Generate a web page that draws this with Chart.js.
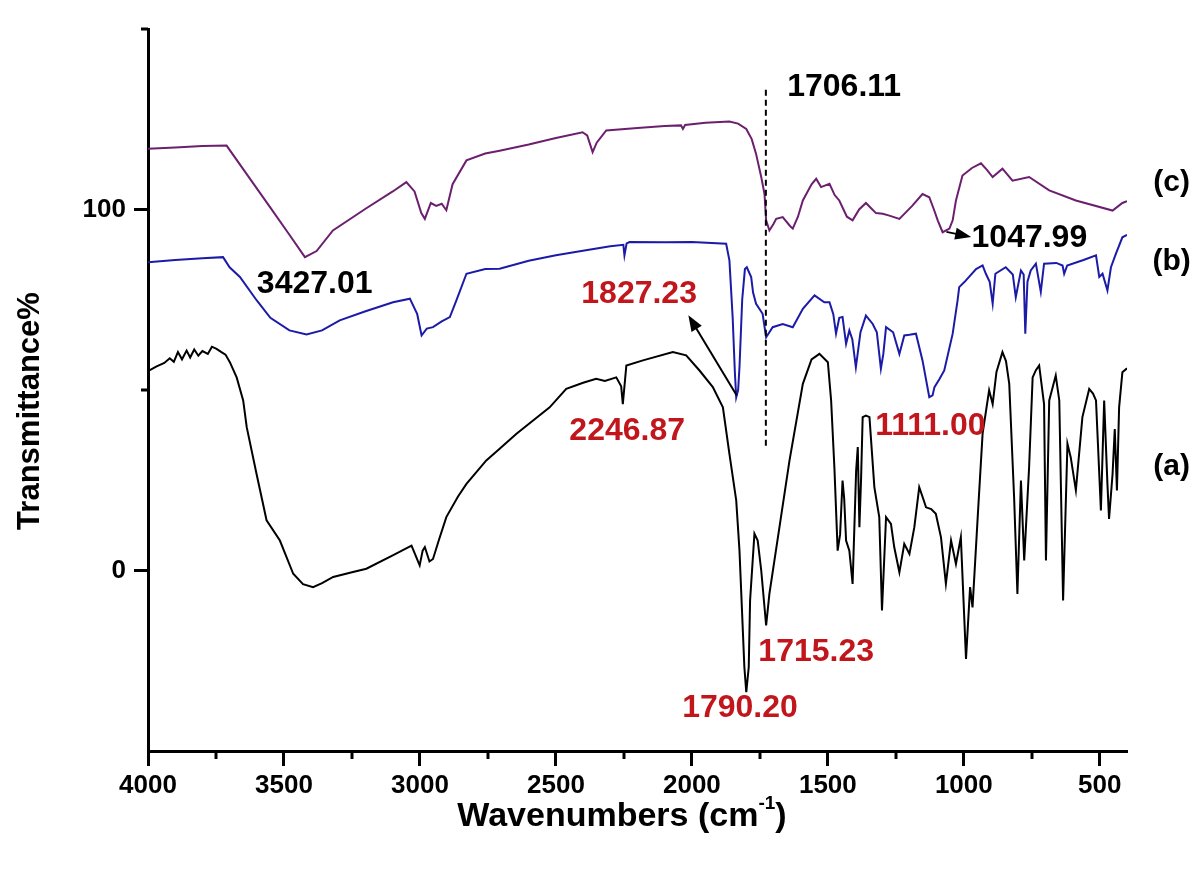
<!DOCTYPE html>
<html>
<head>
<meta charset="utf-8">
<title>FTIR spectra</title>
<script src="https://cdn.jsdelivr.net/npm/chart.js@4.4.1/dist/chart.umd.min.js"></script>
<style>
  html, body { margin: 0; padding: 0; background: #fff; }
  #wrap { width: 1200px; height: 872px; }
</style>
</head>
<body>
<div id="wrap"><canvas id="ftir"></canvas></div>
<script>
/* FTIR spectra (a), (b), (c) — wavenumber (cm-1) vs transmittance % */

// [wavenumber, transmittance]
const specA = [
  [4000, 55.2], [3970, 56.5], [3940, 57.5], [3920, 58.8], [3905, 57.8], [3890, 60.5],
  [3875, 58.5], [3858, 60.9], [3845, 59.0], [3830, 61.2], [3815, 59.5], [3800, 60.8],
  [3780, 60.0], [3765, 62.0], [3748, 61.4], [3730, 60.5], [3715, 59.8], [3699, 57.7],
  [3674, 53.5], [3650, 47.1], [3637, 39.7], [3601, 26.8], [3564, 13.9], [3515, 8.3],
  [3466, -0.9], [3430, -3.8], [3393, -4.6], [3360, -3.5], [3319, -1.8], [3250, -0.5],
  [3197, 0.5], [3100, 4.2], [3031, 6.9], [3001, 1.4], [2990, 5.5], [2982, 6.5],
  [2965, 2.5], [2952, 3.2], [2930, 8.5], [2903, 14.8], [2860, 20.5], [2829, 24.0],
  [2756, 30.5], [2707, 33.7], [2645, 37.9], [2523, 45.2], [2462, 50.3], [2400, 52.0],
  [2352, 53.1], [2320, 52.5], [2278, 53.5], [2260, 51.0], [2254, 46.1], [2248, 51.0],
  [2241, 56.8], [2180, 58.2], [2070, 60.5], [2021, 59.6], [1972, 55.4], [1923, 50.8],
  [1886, 45.2], [1862, 32.3], [1837, 19.4], [1825, 5.5], [1807, -26.8], [1800, -33.7],
  [1791, -26.8], [1786, -8.3], [1770, 10.2], [1758, 8.3], [1745, 0.0], [1727, -15.2],
  [1715, -6.5], [1678, 12.0], [1641, 30.5], [1592, 51.7], [1560, 58.5], [1531, 60.0],
  [1500, 57.7], [1488, 47.1], [1476, 28.6], [1464, 5.5], [1455, 10.0], [1446, 24.9],
  [1440, 20.0], [1433, 8.3], [1421, 5.5], [1409, -3.7], [1396, 27.7], [1390, 34.2],
  [1384, 12.0], [1378, 25.0], [1372, 42.5], [1360, 42.9], [1347, 42.5], [1329, 23.1],
  [1311, 14.8], [1301, -11.1], [1286, 14.8], [1268, 12.9], [1256, 6.5], [1237, -0.5],
  [1219, 7.4], [1200, 4.6], [1182, 12.0], [1164, 23.1], [1150, 20.0], [1139, 17.5],
  [1120, 17.0], [1103, 15.7], [1084, 9.2], [1066, -3.7], [1047, 8.3], [1029, 1.8],
  [1011, 9.2], [992, -24.5], [977, -4.6], [968, -10.2], [949, 14.8], [931, 37.9],
  [907, 49.9], [894, 46.1], [880, 55.0], [858, 60.5], [845, 58.0], [833, 51.7],
  [815, 20.0], [803, -6.5], [790, 24.9], [778, 2.8], [760, 28.6], [747, 53.5],
  [735, 55.5], [723, 56.8], [705, 46.1], [698, 2.8], [686, 47.1], [662, 54.0],
  [649, 47.1], [635, -8.3], [619, 35.1], [607, 31.4], [588, 22.2], [564, 42.5],
  [539, 50.3], [525, 49.0], [514, 47.1], [496, 16.6], [484, 47.1], [472, 24.0],
  [466, 14.3], [453, 26.8], [445, 39.2], [437, 22.2], [429, 45.2], [417, 54.9], [400, 56.0]
];

const specB = [
  [4000, 85.4], [3900, 86.0], [3800, 86.5], [3724, 86.8], [3700, 84.0], [3662, 81.3],
  [3600, 74.8], [3550, 70.0], [3480, 66.5], [3417, 65.4], [3360, 66.5], [3295, 69.3],
  [3200, 71.8], [3099, 74.3], [3037, 75.3], [3010, 71.0], [2994, 65.1], [2975, 67.0],
  [2952, 67.4], [2920, 69.0], [2890, 70.2], [2866, 74.8], [2829, 82.2], [2760, 83.5],
  [2707, 83.6], [2600, 85.8], [2500, 87.3], [2401, 88.6], [2300, 89.8], [2252, 90.2],
  [2248, 87.3], [2240, 90.6], [2229, 91.0], [2100, 90.9], [2000, 91.0], [1874, 90.5],
  [1862, 85.9], [1850, 70.0], [1842, 55.0], [1837, 48.0], [1830, 50.0], [1825, 56.3],
  [1815, 75.0], [1805, 83.5], [1798, 84.0], [1782, 81.3], [1775, 77.0], [1764, 73.9],
  [1752, 72.5], [1740, 71.1], [1727, 64.6], [1715, 66.0], [1703, 67.4], [1666, 68.3],
  [1629, 67.4], [1592, 72.5], [1549, 76.2], [1513, 74.3], [1494, 74.3], [1480, 71.0],
  [1470, 65.6], [1458, 70.0], [1446, 70.2], [1433, 62.8], [1421, 66.5], [1410, 64.0],
  [1397, 56.3], [1380, 66.0], [1360, 70.6], [1335, 68.3], [1320, 66.0], [1305, 55.9],
  [1296, 60.0], [1286, 67.4], [1260, 66.0], [1237, 60.0], [1219, 65.1], [1200, 65.3],
  [1176, 65.6], [1152, 58.2], [1127, 48.0], [1115, 48.5], [1108, 50.8], [1090, 53.0],
  [1072, 55.4], [1041, 65.6], [1023, 74.8], [1017, 78.5], [998, 79.9], [955, 83.5],
  [931, 84.5], [919, 82.2], [905, 80.0], [894, 73.9], [884, 82.2], [846, 84.0],
  [820, 82.0], [809, 75.7], [790, 83.1], [780, 82.0], [774, 65.6], [766, 80.0],
  [754, 83.1], [735, 85.0], [717, 77.2], [705, 85.0], [660, 85.2], [637, 84.5],
  [631, 82.2], [620, 84.5], [560, 86.0], [514, 87.3], [502, 81.3], [490, 82.2],
  [472, 77.6], [459, 84.0], [441, 87.7], [417, 92.3], [400, 93.0]
];

const specC = [
  [4000, 116.8], [3900, 117.2], [3800, 117.6], [3711, 117.7], [3650, 111.2], [3550, 100.5],
  [3480, 93.0], [3423, 86.8], [3380, 88.5], [3320, 94.2], [3200, 100.2], [3100, 105.0],
  [3050, 107.6], [3020, 105.0], [2995, 99.0], [2982, 97.4], [2960, 101.8], [2940, 101.0],
  [2920, 101.6], [2903, 99.8], [2880, 107.0], [2829, 113.6], [2760, 115.5], [2707, 116.3],
  [2600, 118.0], [2500, 119.8], [2402, 121.4], [2385, 120.5], [2365, 115.9], [2350, 118.5],
  [2315, 121.9], [2200, 122.6], [2100, 123.1], [2040, 123.3], [2033, 122.3], [2025, 123.4],
  [1950, 124.0], [1862, 124.4], [1830, 123.8], [1800, 122.3], [1780, 119.5], [1764, 115.4],
  [1745, 109.0], [1733, 104.3], [1727, 97.0], [1715, 94.2], [1700, 96.0], [1690, 97.4],
  [1666, 97.9], [1640, 95.5], [1629, 94.7], [1610, 98.0], [1592, 102.5], [1560, 107.0],
  [1543, 108.5], [1525, 106.2], [1494, 107.1], [1475, 104.0], [1458, 102.5], [1430, 98.0],
  [1409, 97.0], [1385, 100.0], [1360, 101.8], [1340, 100.3], [1323, 99.0], [1298, 98.8],
  [1274, 98.3], [1237, 97.4], [1190, 101.0], [1152, 104.3], [1127, 103.4], [1110, 100.0],
  [1096, 97.0], [1078, 93.7], [1053, 94.7], [1041, 97.0], [1029, 102.5], [1005, 109.4],
  [970, 111.5], [937, 112.8], [915, 111.0], [894, 109.0], [858, 111.3], [821, 108.0],
  [760, 109.0], [686, 105.3], [588, 102.5], [453, 99.7], [417, 101.8], [400, 102.3]
];

const seriesNames  = ['(a)', '(b)', '(c)'];
const seriesColors = ['#000000', '#1b1ba8', '#6b1f6e'];

const xTickLabels = [4000, 3500, 3000, 2500, 2000, 1500, 1000, 500];
const xMinorTicks = [3750, 3250, 2750, 2250, 1750, 1250, 750];
const yTickLabels = [0, 100];
const yMinorTicks = [50, 150];

// peak labels: [text, wavenumber, transmittance, colour]
const RED = '#c0161c';
const peakLabels = [
  ['3427.01', 3387, 79.3, '#000'],
  ['1706.11', 1440, 134.0, '#000'],
  ['1047.99', 759, 92.1, '#000'],
  ['1827.23', 2194, 76.5, RED],
  ['2246.87', 2238, 38.5, RED],
  ['1790.20', 1823, -38.0, RED],
  ['1715.23', 1543, -22.7, RED],
  ['1111.00', 1123, 39.9, RED]
];
// series tags right of the plot
const seriesTags = [['(c)', 236, 107.3], ['(b)', 236, 85.5], ['(a)', 236, 28.8]];
// arrows: [fromW, fromT, toW, toT]
const arrows = [[1835, 48.5, 2013, 70.7], [1064, 93.8, 973, 92.4]];
const markerLine = [1728, 133.2, 33.7];

const FONT = '"Liberation Sans", Arial, sans-serif';

const decor = {
  id: 'decor',
  afterDraw(chart) {
    const { ctx, chartArea } = chart;
    const x = chart.scales.x, y = chart.scales.y;
    ctx.save();

    // minor ticks
    ctx.strokeStyle = '#000';
    ctx.lineWidth = 3;
    xMinorTicks.forEach(v => {
      const px = Math.round(x.getPixelForValue(v));
      ctx.beginPath();
      ctx.moveTo(px, chartArea.bottom);
      ctx.lineTo(px, chartArea.bottom + 8);
      ctx.stroke();
    });
    yMinorTicks.forEach(v => {
      const py = Math.round(y.getPixelForValue(v));
      ctx.beginPath();
      ctx.moveTo(chartArea.left - 7, py);
      ctx.lineTo(chartArea.left, py);
      ctx.stroke();
    });

    // dashed marker line
    const mx = x.getPixelForValue(markerLine[0]);
    ctx.lineWidth = 2;
    ctx.setLineDash([6, 4]);
    ctx.beginPath();
    ctx.moveTo(mx, y.getPixelForValue(markerLine[1]));
    ctx.lineTo(mx, y.getPixelForValue(markerLine[2]));
    ctx.stroke();
    ctx.setLineDash([]);

    // arrows
    arrows.forEach(([w0, t0, w1, t1]) => {
      const x0 = x.getPixelForValue(w0), y0 = y.getPixelForValue(t0);
      const x1 = x.getPixelForValue(w1), y1 = y.getPixelForValue(t1);
      const ang = Math.atan2(y1 - y0, x1 - x0);
      const head = 16, half = 6;
      ctx.lineWidth = 2;
      ctx.beginPath();
      ctx.moveTo(x0, y0);
      ctx.lineTo(x1 - Math.cos(ang) * head * 0.8, y1 - Math.sin(ang) * head * 0.8);
      ctx.stroke();
      ctx.fillStyle = '#000';
      ctx.beginPath();
      ctx.moveTo(x1, y1);
      ctx.lineTo(x1 - Math.cos(ang) * head - Math.sin(ang) * half, y1 - Math.sin(ang) * head + Math.cos(ang) * half);
      ctx.lineTo(x1 - Math.cos(ang) * head + Math.sin(ang) * half, y1 - Math.sin(ang) * head - Math.cos(ang) * half);
      ctx.closePath();
      ctx.fill();
    });

    // peak labels and series tags
    ctx.textAlign = 'center';
    ctx.textBaseline = 'middle';
    ctx.font = 'bold 32px ' + FONT;
    peakLabels.forEach(([txt, w, t, col]) => {
      ctx.fillStyle = col;
      ctx.fillText(txt, x.getPixelForValue(w), y.getPixelForValue(t));
    });
    ctx.fillStyle = '#000';
    ctx.font = 'bold 30px ' + FONT;
    seriesTags.forEach(([txt, w, t]) => {
      ctx.fillText(txt, x.getPixelForValue(w), y.getPixelForValue(t));
    });

    // axis titles
    ctx.save();
    ctx.translate(30, 411);
    ctx.rotate(-Math.PI / 2);
    ctx.font = 'bold 31px ' + FONT;
    ctx.fillText('Transmittance%', 0, 0);
    ctx.restore();

    const main = 'Wavenumbers (cm', sup = '-1', tail = ')';
    ctx.font = 'bold 34px ' + FONT;
    const wMain = ctx.measureText(main).width, wTail = ctx.measureText(tail).width;
    ctx.font = 'bold 19px ' + FONT;
    const wSup = ctx.measureText(sup).width;
    let tx = 622 - (wMain + wSup + wTail) / 2;
    const ty = 817;
    ctx.textAlign = 'left';
    ctx.font = 'bold 34px ' + FONT;
    ctx.fillText(main, tx, ty);
    tx += wMain;
    ctx.font = 'bold 19px ' + FONT;
    ctx.fillText(sup, tx, ty - 13);
    tx += wSup;
    ctx.font = 'bold 34px ' + FONT;
    ctx.fillText(tail, tx, ty);

    ctx.restore();
  }
};

const toPoints = spec => spec.map(([w, t]) => ({ x: w, y: t }));
const specs = [specA, specB, specC];

new Chart(document.getElementById('ftir'), {
  type: 'line',
  data: {
    datasets: specs.map((s, i) => ({
      label: seriesNames[i],
      data: toPoints(s),
      borderColor: seriesColors[i],
      borderWidth: 2,
      pointRadius: 0,
      tension: 0,
      fill: false
    }))
  },
  options: {
    responsive: true,
    maintainAspectRatio: false,
    animation: false,
    layout: { padding: { top: 29, right: 73, left: 0, bottom: 0 } },
    plugins: { legend: { display: false }, tooltip: { enabled: false } },
    scales: {
      x: {
        type: 'linear',
        reverse: true,
        min: 400,
        max: 4000,
        afterBuildTicks: s => { s.ticks = xTickLabels.map(v => ({ value: v })); },
        afterFit: s => { s.height = 121; },
        border: { display: true, color: '#000', width: 3 },
        grid: { drawOnChartArea: false, tickLength: 15, tickWidth: 3, tickColor: '#000' },
        ticks: {
          autoSkip: false,
          maxRotation: 0,
          padding: 4,
          color: '#000',
          font: { family: FONT, size: 26, weight: 'bold' },
          callback: v => String(v)
        }
      },
      y: {
        min: -50,
        max: 150,
        afterBuildTicks: s => { s.ticks = yTickLabels.map(v => ({ value: v })); },
        afterFit: s => { s.width = 148; },
        border: { display: true, color: '#000', width: 3 },
        grid: { drawOnChartArea: false, tickLength: 14, tickWidth: 3, tickColor: '#000' },
        ticks: {
          padding: 8,
          color: '#000',
          font: { family: FONT, size: 26, weight: 'bold' },
          callback: v => String(v)
        }
      }
    }
  },
  plugins: [decor]
});
</script>
</body>
</html>
